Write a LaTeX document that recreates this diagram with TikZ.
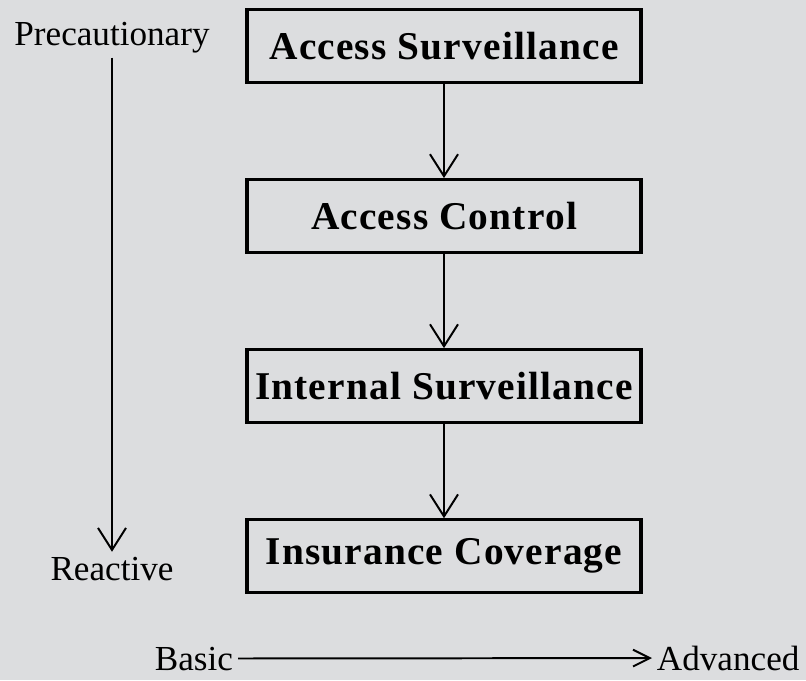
\documentclass[tikz,border=0pt]{standalone}
\usepackage{fontspec}
\setmainfont{Liberation Serif}
\usetikzlibrary{arrows.meta, positioning}
\definecolor{bg_gray}{RGB}{220,221,223}

\begin{document}
\begin{tikzpicture}[
        stage/.style={draw=black, line width=2.2pt,
                   minimum width=9.85cm, minimum height=1.825cm,
                   font=\fontsize{28}{30}\selectfont\bfseries\addfontfeature{LetterSpace=3}},
        flow/.style={line width=1.4pt,
                   -{Straight Barb[length=0.55cm, width=0.7cm]}},
        axis/.style={line width=1.4pt,
                   -{Straight Barb[length=0.42cm, width=0.42cm]}},
        lbl/.style={font=\fontsize{25}{28}\selectfont}]
        \fill[bg_gray] (0,0) rectangle (20.15,-17);
        \useasboundingbox (0,0) rectangle (20.15,-17);
        % the four stages, top to bottom
        \node[stage] (s1) at (11.1,-1.15) {Access Surveillance};
        \node[stage, below=2.35cm of s1] (s2) {Access Control};
        \node[stage, below=2.35cm of s2] (s3) {Internal Surveillance};
        \node[stage, below=2.35cm of s3] (s4) {Insurance Coverage};
        \draw[flow] (s1) -- (s2);
        \draw[flow] (s2) -- (s3);
        \draw[flow] (s3) -- (s4);
        % vertical axis
        \node[lbl, anchor=base] (prec) at (2.8,-1.125) {Precautionary};
        \node[lbl, anchor=base] (react) at (2.8,-14.5) {Reactive};
        \draw[flow] (prec) -- (react);
        % horizontal axis
        \node[lbl, anchor=base east] (basic) at (5.95,-16.75) {Basic};
        \node[lbl, anchor=base west] (adv) at (16.3,-16.75) {Advanced};
        \draw[axis] (basic) -- (adv);
      \end{tikzpicture}
\end{document}
